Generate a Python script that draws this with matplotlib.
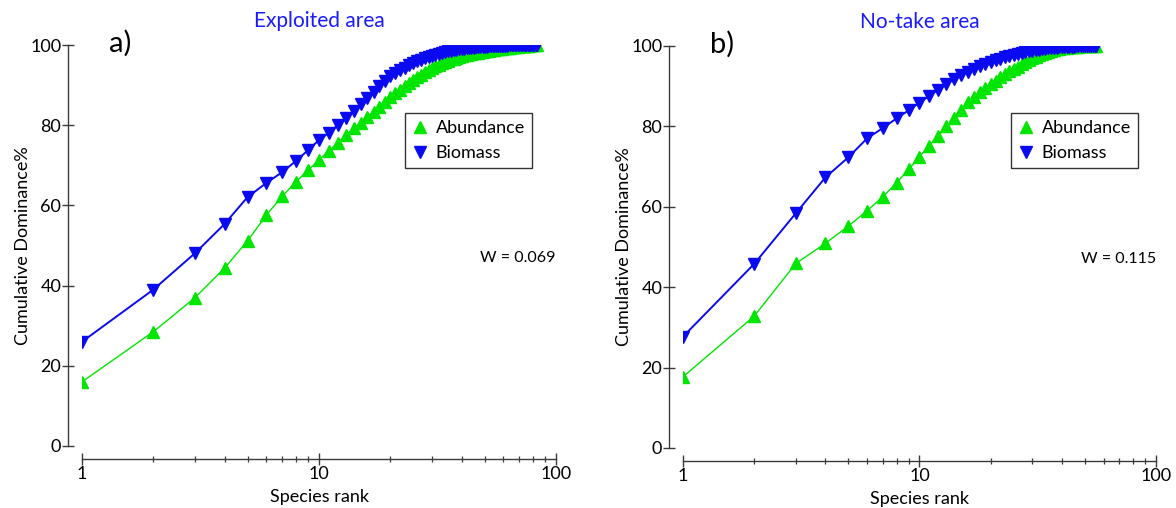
import numpy as np
import matplotlib
matplotlib.use("Agg")
import matplotlib.pyplot as plt
from matplotlib.lines import Line2D
from matplotlib.ticker import LogLocator, NullFormatter, FixedLocator, FixedFormatter

plt.rcParams['font.family'] = ['Lato', 'DejaVu Sans']

# Cumulative dominance (%) by species rank
exploited_abundance = [
    16.0, 28.5, 37.0, 44.4, 51.2, 57.6, 62.3, 65.9, 68.8, 71.3,
    73.6, 75.6, 77.5, 79.2, 80.6, 82.0, 83.3, 84.6, 85.8, 87.0,
    88.0, 88.9, 89.8, 90.6, 91.3, 92.0, 92.6, 93.2, 93.8, 94.3,
    94.7, 95.1, 95.5, 95.8, 96.1, 96.4, 96.6, 96.8, 97.0, 97.2,
    97.4, 97.5, 97.7, 97.8, 97.9, 98.0, 98.1, 98.2, 98.3, 98.4,
    98.5, 98.6, 98.7, 98.8, 98.85, 98.9, 99.0, 99.05, 99.1, 99.15,
    99.2, 99.25, 99.3, 99.35, 99.4, 99.45, 99.5, 99.55, 99.6, 99.63,
    99.66, 99.7, 99.73, 99.76, 99.8, 99.83, 99.86, 99.89, 99.92, 99.95,
    99.97, 99.99, 100.0]
exploited_biomass = [
    26.0, 39.0, 48.1, 55.4, 62.1, 65.6, 68.3, 71.1, 73.8, 76.3,
    78.1, 80.0, 81.8, 83.6, 85.2, 86.8, 88.3, 89.7, 91.0, 92.2,
    93.0, 93.7, 94.3, 94.9, 95.4, 95.9, 96.3, 96.7, 97.0, 97.3,
    97.6, 97.85, 98.05, 98.25, 98.4, 98.55, 98.7, 98.8, 98.9, 99.0,
    99.08, 99.15, 99.22, 99.28, 99.34, 99.4, 99.45, 99.5, 99.54, 99.58,
    99.62, 99.65, 99.68, 99.71, 99.74, 99.76, 99.78, 99.8, 99.82, 99.84,
    99.86, 99.87, 99.88, 99.89, 99.9, 99.91, 99.92, 99.93, 99.94, 99.95,
    99.96, 99.96, 99.97, 99.97, 99.98, 99.98, 99.99, 99.99, 99.99, 100.0,
    100.0, 100.0, 100.0]
notake_abundance = [
    17.7, 32.8, 45.9, 50.9, 55.2, 59.0, 62.5, 66.0, 69.3, 72.5,
    75.2, 77.7, 80.0, 82.2, 84.2, 86.0, 87.4, 88.6, 89.6, 90.5,
    91.4, 92.2, 93.0, 93.7, 94.3, 94.9, 95.5, 96.0, 96.5, 96.9,
    97.3, 97.7, 98.0, 98.3, 98.6, 98.8, 99.0, 99.15, 99.3, 99.4,
    99.5, 99.58, 99.65, 99.72, 99.78, 99.83, 99.87, 99.9, 99.92, 99.94,
    99.96, 99.97, 99.98, 99.99, 99.995, 100.0]
notake_biomass = [
    27.7, 45.8, 58.4, 67.3, 72.3, 77.0, 79.6, 82.0, 84.0, 85.9,
    87.6, 89.1, 90.5, 91.7, 92.8, 93.6, 94.3, 95.0, 95.5, 96.0,
    96.4, 96.8, 97.2, 97.5, 97.8, 98.05, 98.3, 98.5, 98.7, 98.85,
    99.0, 99.1, 99.2, 99.3, 99.38, 99.45, 99.52, 99.58, 99.63, 99.68,
    99.72, 99.76, 99.8, 99.83, 99.86, 99.88, 99.9, 99.92, 99.94, 99.95,
    99.96, 99.97, 99.98, 99.99, 100.0, 100.0]

panel_titles = ["Exploited area", "No-take area"]
panel_letters = ["a)", "b)"]
w_labels = ["W = 0.069", "W = 0.115"]
y_ticks = [0, 20, 40, 60, 80, 100]
x_ticks = [1, 10, 100]

GREEN = "#00e600"
BLUE = "#0a0af0"
AXCOL = "#3a3a3a"
FS = 13

W, H = 1176, 508
fig = plt.figure(figsize=(W / 100, H / 100), dpi=100)

# pixel boxes of the two plotting areas: left, right, top(y=100), bottom(y=0)
boxes = [(82, 556, 45, 446), (683, 1156, 46, 448)]
legend_left = [405, 1011]
series = [(exploited_abundance, exploited_biomass), (notake_abundance, notake_biomass)]

for i, (l, r, t, b) in enumerate(boxes):
    ax = fig.add_axes([l / W, (H - b) / H, (r - l) / W, (b - t) / H])
    ab, bm = series[i]
    ra = np.arange(1, len(ab) + 1)
    rb = np.arange(1, len(bm) + 1)
    ax.plot(ra, ab, color=GREEN, lw=1.0, marker='^', ms=8.5, mec=GREEN, mfc=GREEN, zorder=3)
    ax.plot(rb, bm, color=BLUE, lw=1.4, marker='v', ms=8.5, mec=BLUE, mfc=BLUE, zorder=4)

    ax.set_xscale('log')
    ax.set_xlim(1, 100)
    ax.set_ylim(0, 100)
    for s in ('top', 'right'):
        ax.spines[s].set_visible(False)
    ax.spines['left'].set_position(('outward', 10))
    ax.spines['bottom'].set_position(('outward', 9))
    for s in ('left', 'bottom'):
        ax.spines[s].set_color(AXCOL)
        ax.spines[s].set_linewidth(1.0)

    ax.xaxis.set_major_locator(FixedLocator(x_ticks))
    ax.xaxis.set_major_formatter(FixedFormatter([str(v) for v in x_ticks]))
    ax.xaxis.set_minor_locator(LogLocator(base=10, subs=np.arange(2, 10)))
    ax.xaxis.set_minor_formatter(NullFormatter())
    ax.set_yticks(y_ticks)
    ax.tick_params(axis='x', which='major', direction='inout', length=9, width=1.0,
                   color=AXCOL, labelsize=FS, pad=1)
    ax.tick_params(axis='x', which='minor', direction='inout', length=5, width=0.9, color=AXCOL)
    ax.tick_params(axis='y', which='major', direction='inout', length=8, width=1.0,
                   color=AXCOL, labelsize=FS, pad=1)

    ax.set_xlabel("Species rank", fontsize=FS, labelpad=5)
    ax.set_ylabel("Cumulative Dominance%", fontsize=FS, labelpad=-1)

    ax.text(0.5, 1.06, panel_titles[i], transform=ax.transAxes, ha='center', va='center',
            color='#1a1aff', fontsize=15)
    ax.text(0.058, 1.004, panel_letters[i], transform=ax.transAxes, ha='left', va='center',
            fontsize=21)
    ax.text(1.0, 0.47, w_labels[i], transform=ax.transAxes, ha='right', va='center',
            fontsize=11.5)

    handles = [Line2D([], [], ls='none', marker='^', ms=9, color=GREEN),
               Line2D([], [], ls='none', marker='v', ms=9, color=BLUE)]
    leg = ax.legend(handles, ["Abundance", "Biomass"], loc='upper left',
                    bbox_to_anchor=((legend_left[i] - l) / (r - l), (b - 113) / (b - t)),
                    frameon=True, fancybox=False, fontsize=FS, handlelength=0.9,
                    handletextpad=0.4, borderpad=0.4, labelspacing=0.5, borderaxespad=0)
    leg.get_frame().set_edgecolor('black')
    leg.get_frame().set_linewidth(1.0)

fig.savefig("out.png", dpi=100)
